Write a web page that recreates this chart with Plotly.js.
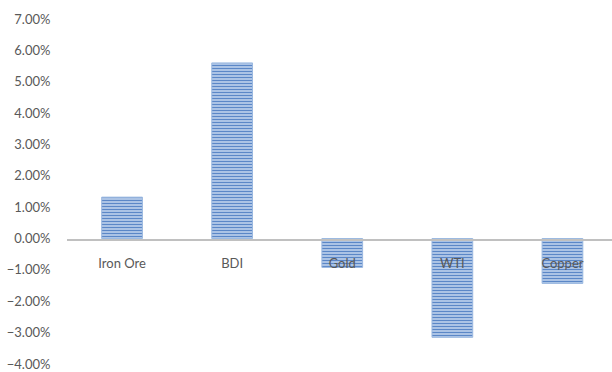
<!DOCTYPE html>
<html>
<head>
<meta charset="utf-8">
<script src="https://cdn.plot.ly/plotly-3.0.1.min.js"></script>
<style>html,body{margin:0;padding:0;background:#fff;}#chart{width:612px;height:372px;}</style>
</head>
<body>
<div id="chart"></div>
<script>
const categories = ["Iron Ore", "BDI", "Gold", "WTI", "Copper"];
const changes = [0.0132, 0.056, -0.0092, -0.0315, -0.0143];
const yTickValues = [-0.04, -0.03, -0.02, -0.01, 0, 0.01, 0.02, 0.03, 0.04, 0.05, 0.06, 0.07];

const trace = {
  type: "bar",
  x: categories,
  y: changes,
  width: 0.37,
  marker: {
    color: "#a7c0e4",
    line: {color: "#9ab8e0", width: 1},
    pattern: {shape: "-", fgcolor: "#5b87c7", bgcolor: "#c5d7ef", size: 3, solidity: 0.5, fillmode: "replace"}
  },
  hoverinfo: "skip"
};

const layout = {
  width: 612, height: 372,
  margin: {l: 67, r: 0, t: 19, b: 8, pad: 0},
  paper_bgcolor: "#ffffff", plot_bgcolor: "#ffffff",
  font: {family: "Lato, 'Open Sans', sans-serif", size: 13, color: "#595959"},
  showlegend: false,
  xaxis: {
    type: "category",
    range: [-0.5, 4.45],
    anchor: "free",
    position: 124/345,
    showline: true, linecolor: "#c0c0c0", linewidth: 2,
    showgrid: false, zeroline: false,
    ticks: "outside", ticklen: 11, tickcolor: "rgba(0,0,0,0)",
    tickfont: {size: 13, color: "#595959"}
  },
  yaxis: {
    range: [-0.04, 0.07],
    tickvals: yTickValues,
    tickformat: ".2%",
    showgrid: false, zeroline: false, showline: false,
    ticks: "outside", ticklen: 13, tickcolor: "rgba(0,0,0,0)",
    tickfont: {size: 13, color: "#595959"}
  }
};

Plotly.newPlot("chart", [trace], layout, {staticPlot: true, displayModeBar: false});
</script>
</body>
</html>
